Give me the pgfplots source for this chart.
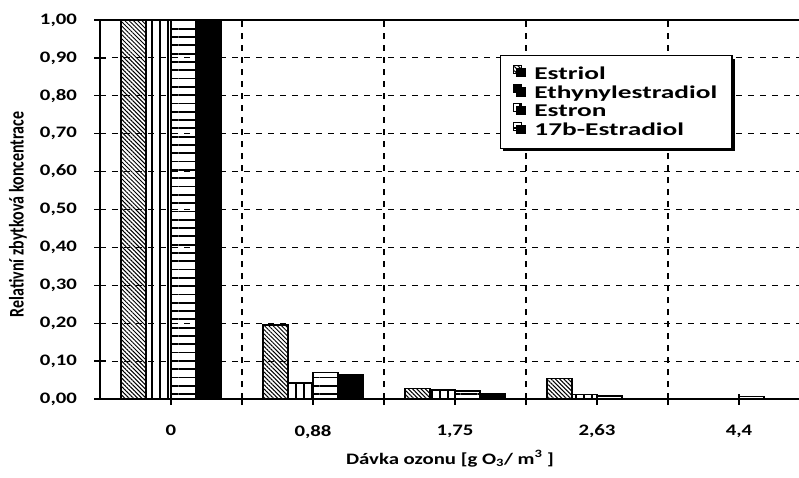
\documentclass[border=0pt]{standalone}
\usepackage{pgfplots}
\pgfplotsset{compat=1.18}
\usepackage{fontspec}
\setmainfont{Carlito}[FakeStretch=1.3]
\newfontfamily\plainfont{Carlito}
\newfontfamily\legfont{Carlito}[FakeStretch=1.52]
\usetikzlibrary{patterns.meta,shadows}

\begin{document}
\begin{tikzpicture}
\useasboundingbox (-100pt,-78pt) rectangle (699pt,399pt);
\clip (-100pt,-78pt) rectangle (699pt,399pt);
\begin{axis}[
  at={(0pt,0pt)}, anchor=south west,
  scale only axis, width=710pt, height=379pt,
  xmin=-0.5, xmax=4.5, ymin=0, ymax=1,
  ybar=0pt, bar width=25pt,
  tick pos=left,
  xtick={0,1,2,3,4},
  xticklabels={0,{0,88},{1,75},{2,63},{4,4}},
  extra x ticks={0.5,1.5,2.5,3.5},
  extra x tick labels={},
  extra x tick style={grid=major, tick align=outside, major tick length=6pt},
  ytick={0,0.1,0.2,0.3,0.4,0.5,0.6,0.7,0.8,0.9,1.0},
  ymajorgrids,
  major grid style={black, line width=1.2pt, dash pattern=on 6pt off 6pt},
  tick align=center, major tick length=11pt,
  tick style={black, line width=1.3pt},
  axis line style={line width=1.6pt},
  /pgf/number format/assume math mode=true,
  /pgf/number format/fixed,
  /pgf/number format/fixed zerofill,
  /pgf/number format/precision=2,
  /pgf/number format/use comma,
  tick label style={font=\fontsize{16}{19}\selectfont\bfseries},
  yticklabel style={xshift=-14pt},
  xticklabel style={yshift=-17pt},
  xlabel={Dávka ozonu [g O\textsubscript{3}/ m\textsuperscript{3} ]},
  xlabel style={font=\fontsize{16}{19}\selectfont\bfseries, at={(axis description cs:0.493,0)}, anchor=north, yshift=-48pt},
  ylabel={\scalebox{1}[1.3]{\plainfont\fontsize{16}{19}\selectfont\bfseries Relativní zbytková koncentrace}},
  ylabel style={at={(axis description cs:-0.1155,0.487)}, anchor=center},
  every axis plot/.append style={draw=black, line width=1.2pt},
  legend image code/.code={\draw[#1, line width=0.9pt] (0pt,0pt) rectangle (8pt,8pt);},
  legend cell align=left,
  legend style={at={(0.563,0.9077)}, anchor=north west, draw=black, line width=1.5pt, fill=white,
    font=\legfont\fontsize{18}{20}\selectfont\bfseries, inner xsep=13pt, inner ysep=9pt, row sep=1pt,
    drop shadow={shadow xshift=3pt, shadow yshift=-3pt, fill=black, opacity=1}},
]
\addplot[bar shift=-37.5pt, pattern={Lines[angle=-45,distance=3pt,line width=1pt]}, pattern color=black]
  coordinates {(0,1.00) (1,0.195) (2,0.028) (3,0.055) (4,0)};
\addlegendentry{\hspace{10pt}Estriol}
\addplot[bar shift=37.5pt, fill=black]
  coordinates {(0,1.00) (1,0.065) (2,0.015) (3,0) (4,0)};
\addlegendentry{\hspace{10pt}Ethynylestradiol}
\addplot[bar shift=-12.5pt, pattern={Lines[angle=90,distance=8pt,line width=1.5pt]}, pattern color=black]
  coordinates {(0,1.00) (1,0.042) (2,0.024) (3,0.012) (4,0)};
\addlegendentry{\hspace{10pt}Estron}
\addplot[bar shift=12.5pt, pattern={Lines[angle=0,distance=8.3pt,line width=1.8pt]}, pattern color=black]
  coordinates {(0,1.00) (1,0.070) (2,0.021) (3,0.008) (4,0.007)};
\addlegendentry{\hspace{10pt}17b-Estradiol}
\end{axis}
\end{tikzpicture}
\end{document}
